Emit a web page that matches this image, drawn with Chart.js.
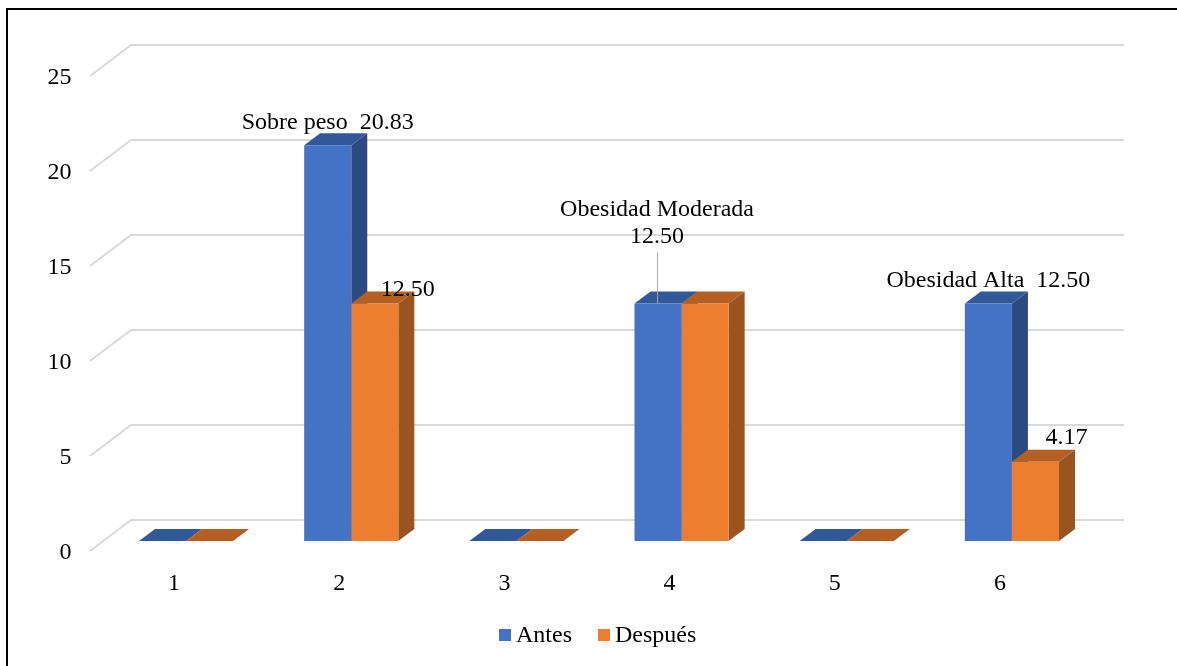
<!DOCTYPE html>
<html>
<head>
<meta charset="utf-8">
<title>Antes y Después</title>
<script src="https://cdn.jsdelivr.net/npm/chart.js@4"></script>
<style>
    html, body { margin: 0; padding: 0; background: #fff; overflow: hidden; }
    #frame { position: absolute; left: 6px; top: 8px; right: 0; bottom: 0; border-top: 2px solid #000; border-left: 2px solid #000; }
    #myChart { position: absolute; left: 0; top: 0; }
</style>
</head>
<body>
<canvas id="myChart" width="1177" height="666"></canvas>
<div id="frame"></div>
<script>
var categories = ['1', '2', '3', '4', '5', '6'];
var antes = [0, 20.83, 0, 12.5, 0, 12.5];
var despues = [0, 12.5, 0, 12.5, 0, 4.17];
var yTicks = [0, 5, 10, 15, 20, 25];

// label names next to the values, empty string = no label
var antesNames = ['', 'Sobre peso', '', 'Obesidad Moderada', '', 'Obesidad Alta'];
var despuesShown = [false, true, false, false, false, true];

var fontName = '"Liberation Serif", "Times New Roman", serif';
var fontSize = 24;

// 3d look
var barDepthX = 16, barDepthY = 12;
var faces = [
    { front: '#4472C4', top: '#31599A', side: '#2C4A80' },
    { front: '#ED7D31', top: '#B55F23', side: '#9A5420' }
];

function poly(ctx, pts, color) {
    ctx.fillStyle = color;
    ctx.beginPath();
    ctx.moveTo(pts[0][0], pts[0][1]);
    for (var i = 1; i < pts.length; i++) ctx.lineTo(pts[i][0], pts[i][1]);
    ctx.closePath();
    ctx.fill();
}

var wallAndSides = {
    id: 'wallAndSides',
    beforeDatasetsDraw: function (chart) {
        var ctx = chart.ctx, y = chart.scales.y, area = chart.chartArea;
        ctx.save();

        // back wall grid lines with the short diagonal to the front
        ctx.strokeStyle = '#D9D9D9';
        ctx.lineWidth = 2;
        yTicks.forEach(function (t) {
            var py = y.getPixelForValue(t);
            ctx.beginPath();
            ctx.moveTo(area.left - 13.5, py + 10);
            ctx.lineTo(area.left + 27.5, py - 21);
            ctx.lineTo(1124, py - 21);
            ctx.stroke();
        });

        // side and top faces, the library draws the front rectangles over them
        chart.data.datasets.forEach(function (ds, d) {
            chart.getDatasetMeta(d).data.forEach(function (bar) {
                var l = bar.x - bar.width / 2, r = bar.x + bar.width / 2;
                poly(ctx, [[r, bar.y], [r + barDepthX, bar.y - barDepthY], [r + barDepthX, bar.base - barDepthY], [r, bar.base]], faces[d].side);
                poly(ctx, [[l, bar.y], [l + barDepthX, bar.y - barDepthY], [r + barDepthX, bar.y - barDepthY], [r, bar.y]], faces[d].top);
            });
        });
        ctx.restore();
    }
};

var barLabels = {
    id: 'barLabels',
    afterDraw: function (chart) {
        var ctx = chart.ctx;
        var a = chart.getDatasetMeta(0).data, b = chart.getDatasetMeta(1).data;
        ctx.save();
        ctx.font = fontSize + 'px ' + fontName;
        ctx.fillStyle = '#000';
        ctx.textAlign = 'center';
        ctx.textBaseline = 'middle';

        antesNames.forEach(function (name, i) {
            if (!name) return;
            var txt = antes[i].toFixed(2);
            if (name === 'Obesidad Moderada') {
                // this one has a leader line and two rows
                ctx.strokeStyle = '#A6A6A6';
                ctx.lineWidth = 1;
                ctx.beginPath();
                ctx.moveTo(a[i].x - 0.5, a[i].y - 51);
                ctx.lineTo(a[i].x - 0.5, a[i].y);
                ctx.stroke();
                ctx.fillText(name, a[i].x - 1, a[i].y - 94);
                ctx.fillText(txt, a[i].x - 1, a[i].y - 67);
            } else {
                ctx.fillText(name + '  ' + txt, a[i].x, a[i].y - 23);
            }
        });

        despuesShown.forEach(function (show, i) {
            if (!show) return;
            var dx = i === 1 ? 33 : 31, dy = i === 1 ? 14 : 24;
            ctx.fillText(despues[i].toFixed(2), b[i].x + dx, b[i].y - dy);
        });

        // legend, squares sit closer to the text than the built in one allows
        var lx = 499, ly = 635;
        ctx.textAlign = 'left';
        chart.data.datasets.forEach(function (ds) {
            ctx.fillStyle = ds.backgroundColor;
            ctx.fillRect(lx, ly - 6, 12, 12);
            ctx.fillStyle = '#000';
            ctx.fillText(ds.label, lx + 17, ly + 1);
            lx += 17 + ctx.measureText(ds.label).width + 26;
        });
        ctx.restore();
    }
};

var ctx1 = document.getElementById('myChart').getContext('2d');
var myChart = new Chart(ctx1, {
    type: 'bar',
    data: {
        labels: categories,
        datasets: [
            { label: 'Antes', data: antes, backgroundColor: faces[0].front },
            { label: 'Después', data: despues, backgroundColor: faces[1].front }
        ]
    },
    options: {
        responsive: false,
        animation: false,
        layout: { padding: { left: 0, right: 82.5, top: 66, bottom: 0 } },
        categoryPercentage: 0.57,
        barPercentage: 1,
        scales: {
            x: {
                grid: { display: false },
                border: { display: false },
                afterFit: function (scale) { scale.height = 125; },
                ticks: {
                    color: '#000',
                    font: { family: fontName, size: fontSize },
                    padding: 20,
                    labelOffset: -12,
                    maxRotation: 0
                }
            },
            y: {
                min: 0,
                max: 25,
                grid: { display: false },
                border: { display: false },
                afterFit: function (scale) { scale.width = 103.5; },
                ticks: {
                    color: '#000',
                    font: { family: fontName, size: fontSize },
                    padding: 24,
                    stepSize: 5,
                    labelOffset: 12
                }
            }
        },
        plugins: {
            legend: { display: false },
            tooltip: { enabled: false }
        }
    },
    plugins: [wallAndSides, barLabels]
});
</script>
</body>
</html>
